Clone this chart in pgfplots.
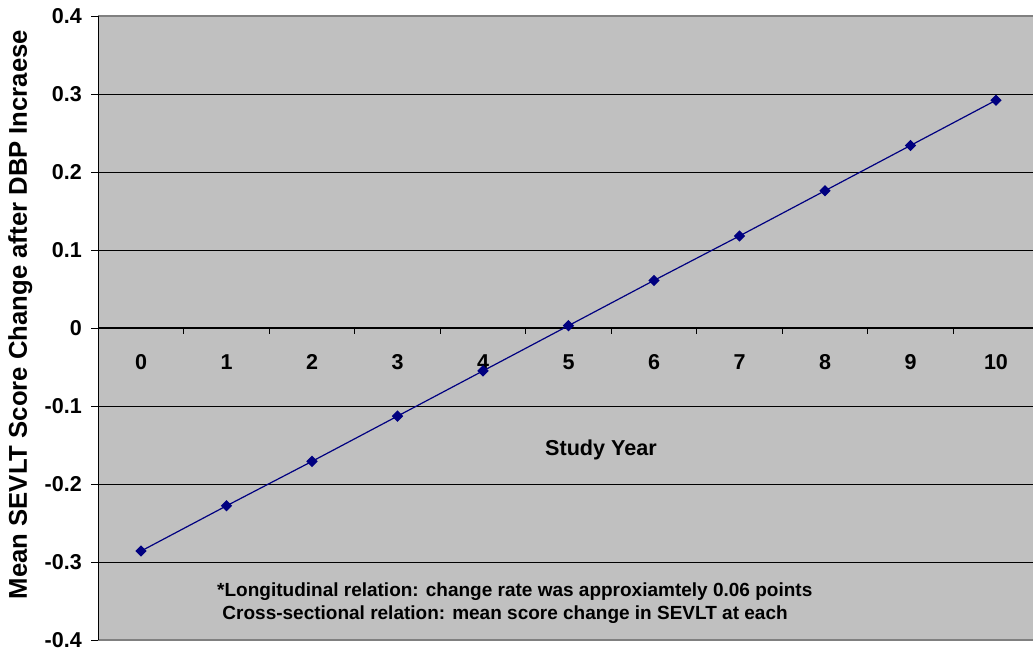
\documentclass[border=0pt]{standalone}
\usepackage{pgfplots}
\pgfplotsset{compat=1.18}
\usepackage{fontspec}
\setmainfont{Liberation Sans}
\definecolor{bg}{HTML}{C0C0C0}
\definecolor{navy}{HTML}{000080}
\definecolor{frame}{HTML}{808080}
\begin{document}
\begin{tikzpicture}
\begin{axis}[
  scale only axis,
  width=934.75pt, height=624pt,
  xmin=-0.5, xmax=10.433,
  ymin=-0.4, ymax=0.4,
  axis y line=left,
  axis x line=middle,
  axis line style={-, black, line width=1pt},
  axis background/.style={fill=bg},
  ytick={-0.4,-0.3,-0.2,-0.1,0,0.1,0.2,0.3,0.4},
  yticklabels={-0.4,-0.3,-0.2,-0.1,0,0.1,0.2,0.3,0.4},
  xtick={0,1,2,3,4,5,6,7,8,9,10},
  xticklabels={0,1,2,3,4,5,6,7,8,9,10},
  minor xtick={0.5,1.5,2.5,3.5,4.5,5.5,6.5,7.5,8.5,9.5},
  major x tick style={draw=none},
  minor x tick style={black, line width=0.8pt},
  minor tick length=6pt,
  major tick length=7pt,
  y tick style={black, line width=0.8pt},
  tick align=outside,
  ymajorgrids,
  grid style={black, line width=0.8pt},
  tick label style={font=\bfseries\fontsize{21.5}{24}\selectfont},
  xticklabel style={anchor=center, yshift=-27pt},
  yticklabel style={anchor=east, xshift=-6pt},
  clip=false,
]
\addplot[navy, line width=1.2pt, mark=square*, mark size=3.4pt, mark options={fill=navy, draw=navy, rotate=45}]
coordinates {(0,-0.286) (1,-0.228) (2,-0.171) (3,-0.113) (4,-0.055) (5,0.003) (6,0.061) (7,0.118) (8,0.176) (9,0.234) (10,0.292)};
\draw[frame, line width=1.5pt] (axis cs:-0.5,0.4) -- (axis cs:10.433,0.4);
\draw[frame, line width=1.5pt] (axis cs:-0.5,-0.4) -- (axis cs:10.433,-0.4);
\draw[black, line width=1pt] (axis cs:-0.5,-0.4) -- (axis cs:-0.5,0.4);
\node[font=\bfseries\fontsize{21.6}{24}\selectfont] at (axis cs:5.38,-0.156) {Study Year};
\node[anchor=west, font=\bfseries\fontsize{19}{22}\selectfont, inner sep=0pt] at (axis cs:0.889,-0.338) {*Longitudinal relation: change rate was approxiamtely 0.06 points};
\node[anchor=west, font=\bfseries\fontsize{19}{22}\selectfont, inner sep=0pt] at (axis cs:0.889,-0.368) {\ Cross-sectional relation: mean score change in SEVLT at each};
\end{axis}
\node[rotate=90, font=\bfseries\fontsize{25.7}{28}\selectfont] at (-78pt,325.5pt) {Mean SEVLT Score Change after DBP Incraese};
\pgfresetboundingbox
\path[use as bounding box] (-98.25pt,-10pt) rectangle (934.75pt,640pt);
\end{tikzpicture}
\end{document}
